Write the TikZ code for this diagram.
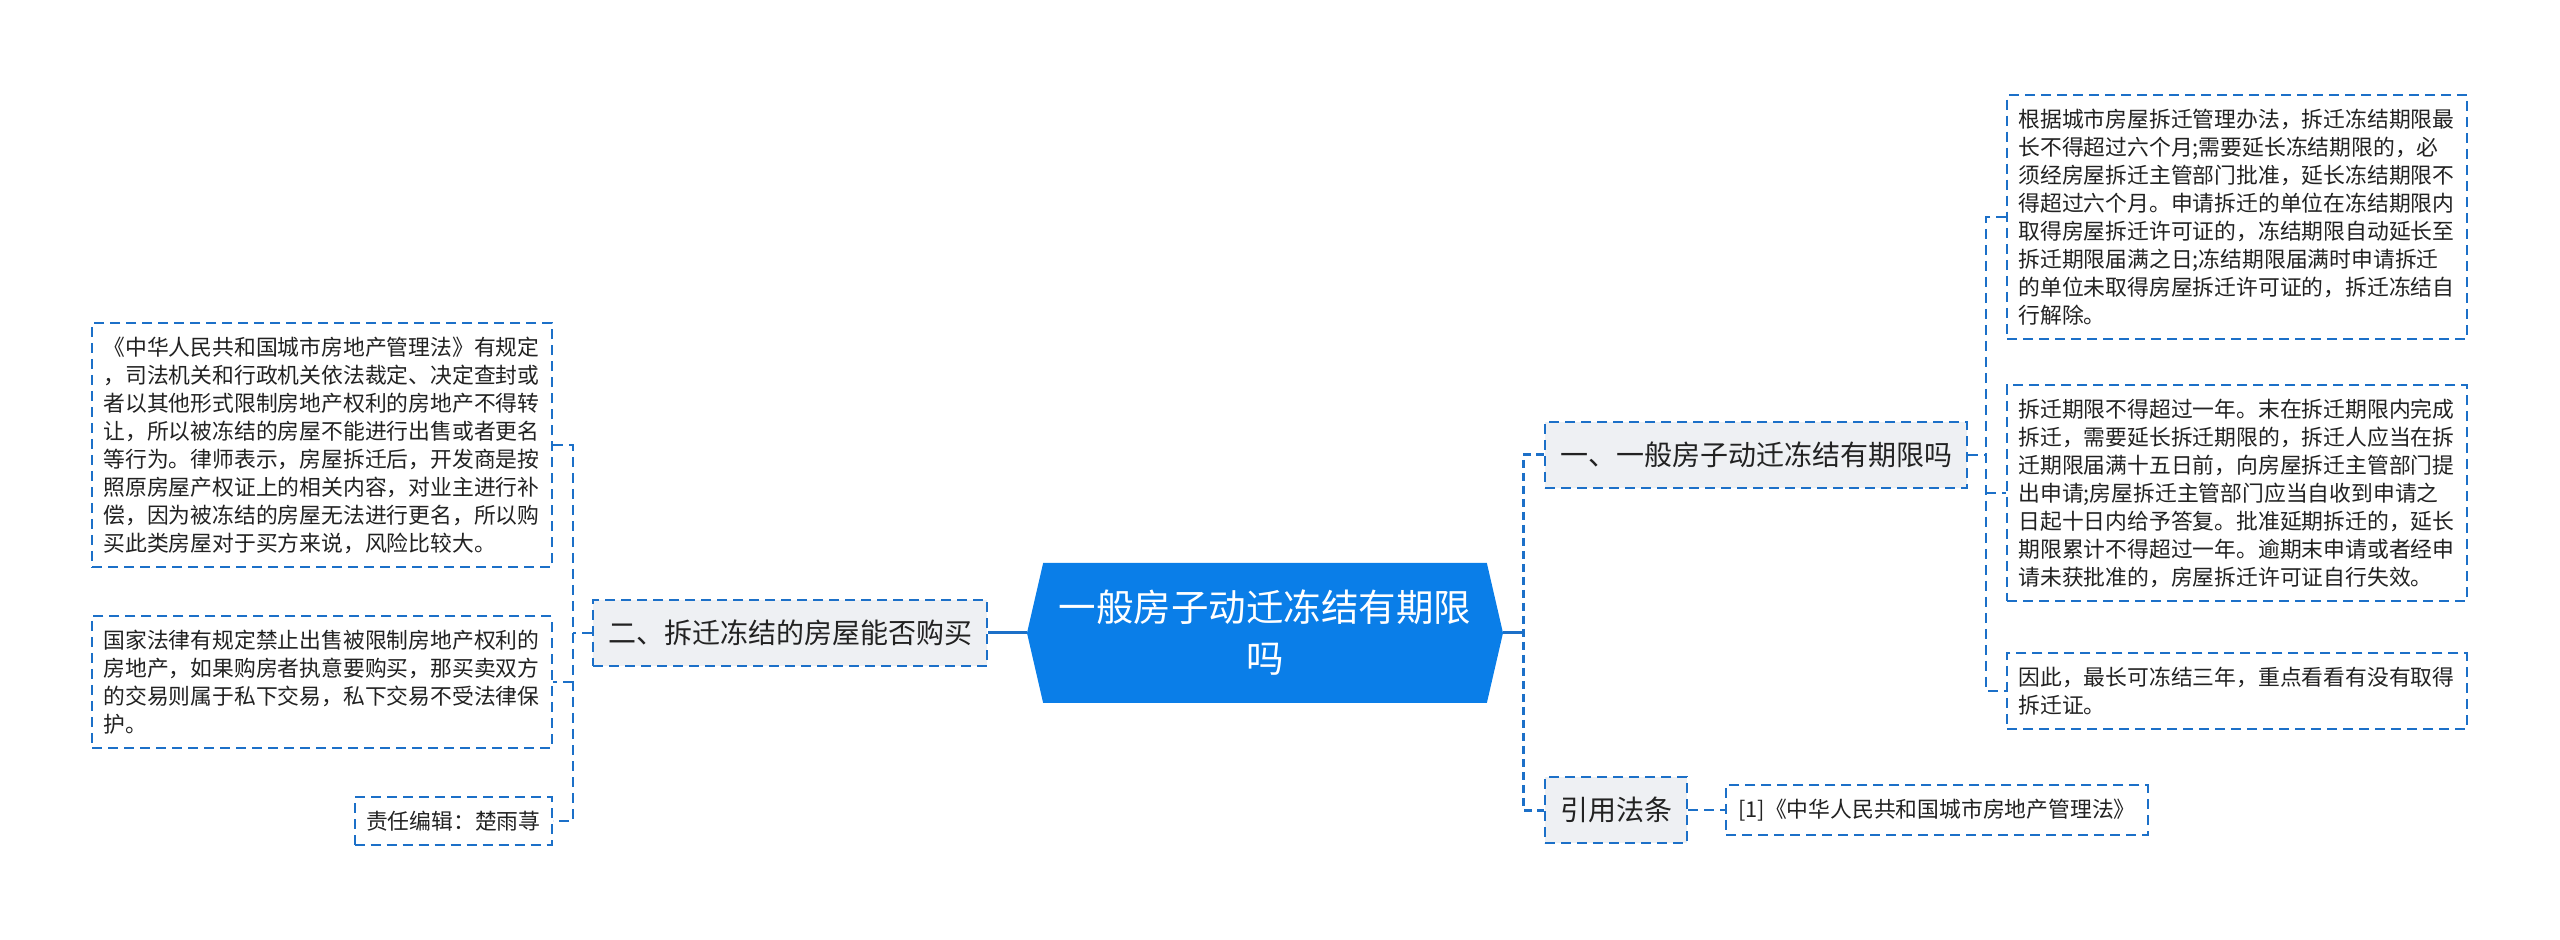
\documentclass[tikz,border=0pt]{standalone}
\usepackage{fontspec}
\usepackage{tikz}
\usetikzlibrary{shapes.symbols}
\newfontfamily\cjk{Noto Sans CJK SC}
\definecolor{mapblue}{RGB}{28,112,200}
\definecolor{rootblue}{RGB}{10,126,232}
\definecolor{topicgray}{RGB}{238,240,243}
\definecolor{inkgray}{RGB}{34,34,34}

\begin{document}
\begin{tikzpicture}[x=0.5pt,y=-0.5pt,
  rootnode/.style={signal,signal to=east and west,signal pointer angle=154,fill=rootblue,text=white,minimum width=238pt,minimum height=70pt,inner sep=0pt,align=center,font=\cjk\fontsize{18.75pt}{25.5pt}\selectfont},
  topic/.style={draw=mapblue,dash pattern=on 5pt off 3pt,line width=1pt,fill=topicgray,text=inkgray,minimum height=33pt,inner xsep=7.5pt,inner ysep=0pt,font=\cjk\fontsize{14pt}{17pt}\selectfont},
  leaf/.style={draw=mapblue,dash pattern=on 5pt off 3pt,line width=1pt,fill=white,text=inkgray,align=left,inner xsep=5.75pt,inner ysep=6.8pt,font=\cjk\fontsize{10.9pt}{14pt}\selectfont},
  note/.style={leaf,text width=218.5pt},
  stem/.style={mapblue,line width=1.5pt},
  branch/.style={mapblue,line width=1.5pt,dash pattern=on 4pt off 2.5pt},
  twig/.style={mapblue,line width=1pt,dash pattern=on 5pt off 3pt}]
\useasboundingbox (0,0) rectangle (2560,940);
\node[rootnode] (root) at (1265,633) {一般房子动迁冻结有期限\\吗};
\node[topic,anchor=east] (sec2) at (988,633) {二、拆迁冻结的房屋能否购买};
\node[topic,anchor=west] (sec1) at (1544,455) {一、一般房子动迁冻结有期限吗};
\node[topic,anchor=west] (cite) at (1544,810) {引用法条};
\node[note,anchor=west] (rb1) at (2006,217) {根据城市房屋拆迁管理办法，拆迁冻结期限最\\长不得超过六个月;需要延长冻结期限的，必\\须经房屋拆迁主管部门批准，延长冻结期限不\\得超过六个月。申请拆迁的单位在冻结期限内\\取得房屋拆迁许可证的，冻结期限自动延长至\\拆迁期限届满之日;冻结期限届满时申请拆迁\\的单位未取得房屋拆迁许可证的，拆迁冻结自\\行解除。};
\node[note,anchor=west] (rb2) at (2006,493) {拆迁期限不得超过一年。末在拆迁期限内完成\\拆迁，需要延长拆迁期限的，拆迁人应当在拆\\迁期限届满十五日前，向房屋拆迁主管部门提\\出申请;房屋拆迁主管部门应当自收到申请之\\日起十日内给予答复。批准延期拆迁的，延长\\期限累计不得超过一年。逾期末申请或者经申\\请未获批准的，房屋拆迁许可证自行失效。};
\node[note,anchor=west] (rb3) at (2006,691) {因此，最长可冻结三年，重点看看有没有取得\\拆迁证。};
\node[leaf,anchor=west,minimum width=211pt] (law) at (1725,810) {[1]《中华人民共和国城市房地产管理法》};
\node[note,anchor=east] (lb1) at (553,445) {《中华人民共和国城市房地产管理法》有规定\\，司法机关和行政机关依法裁定、决定查封或\\者以其他形式限制房地产权利的房地产不得转\\让，所以被冻结的房屋不能进行出售或者更名\\等行为。律师表示，房屋拆迁后，开发商是按\\照原房屋产权证上的相关内容，对业主进行补\\偿，因为被冻结的房屋无法进行更名，所以购\\买此类房屋对于买方来说，风险比较大。};
\node[note,anchor=east] (lb2) at (553,682) {国家法律有规定禁止出售被限制房地产权利的\\房地产，如果购房者执意要购买，那买卖双方\\的交易则属于私下交易，私下交易不受法律保\\护。};
\node[leaf,anchor=east] (editor) at (553,821) {责任编辑：楚雨荨};
\coordinate (lj) at (573,633);
\coordinate (rj) at (1523,633);
\coordinate (rk) at (1986,455);
\draw[stem] (root.west) -- (sec2.east);
\draw[stem] (root.east) -- (rj);
\draw[branch] (sec1.west) -- (rj |- sec1.west) -- (rj |- cite.west) -- (cite.west);
\draw[twig] (sec2.west) -- (lj);
\draw[twig] (lb1.east) -- (lj |- lb1.east) -- (lj |- editor.east) -- (editor.east);
\draw[twig] (lj |- lb2.east) -- (lb2.east);
\draw[twig] (sec1.east) -- (rk);
\draw[twig] (rb1.west) -- (rk |- rb1.west) -- (rk |- rb3.west) -- (rb3.west);
\draw[twig] (rk |- rb2.west) -- (rb2.west);
\draw[twig] (cite.east) -- (law.west);
\end{tikzpicture}
\end{document}
